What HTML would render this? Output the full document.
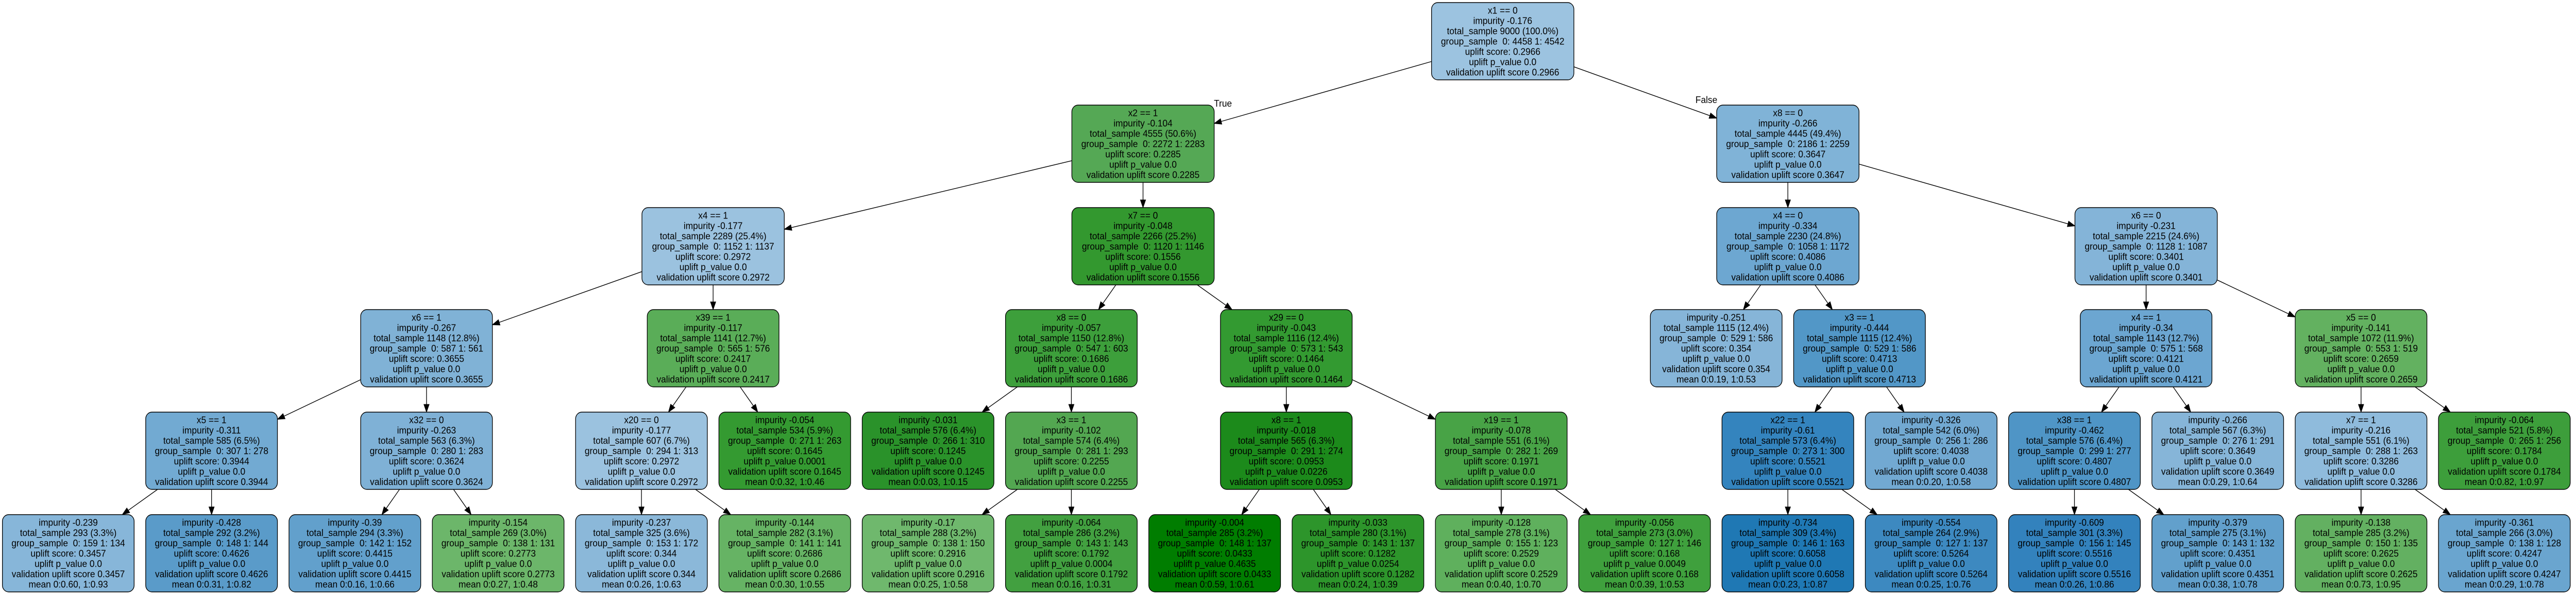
<!DOCTYPE html>
<html><head><meta charset="utf-8"><style>
html,body{margin:0;padding:0;background:#fff;width:100vw;height:100vh;overflow:hidden}
svg{display:block;width:100vw;height:100vh}
svg text{font-family:"Liberation Sans",Arial,sans-serif;font-size:18.5px;fill:#000;white-space:pre}
</style></head><body>
<svg id="s" xmlns="http://www.w3.org/2000/svg" viewBox="0 0 5339 1155" preserveAspectRatio="none"></svg>
<script>
var tops=[5,204,403,601,800,999];
function I(h,imp,tot,g,up,p){return [h,"impurity "+imp,"total_sample "+tot,"group_sample  "+g,"uplift score: "+up,"uplift p_value "+p,"validation uplift score "+up];}
function L(imp,tot,g,up,p,m){return ["impurity "+imp,"total_sample "+tot,"group_sample  "+g,"uplift score: "+up,"uplift p_value "+p,"validation uplift score "+up,"mean "+m];}
var N=[
[10,0,"#9cc3e0",I("x1 == 0","-0.176","9000 (100.0%)","0: 4458 1: 4542","0.2966","0.0"),-1],
[7.5,1,"#55a855",I("x2 == 1","-0.104","4555 (50.6%)","0: 2272 1: 2283","0.2285","0.0"),0],
[12,1,"#80b3d7",I("x8 == 0","-0.266","4445 (49.4%)","0: 2186 1: 2259","0.3647","0.0"),0],
[4.5,2,"#9bc2df",I("x4 == 1","-0.177","2289 (25.4%)","0: 1152 1: 1137","0.2972","0.0"),1],
[7.5,2,"#33982f",I("x7 == 0","-0.048","2266 (25.2%)","0: 1120 1: 1146","0.1556","0.0"),1],
[12,2,"#6da7d1",I("x4 == 0","-0.334","2230 (24.8%)","0: 1058 1: 1172","0.4086","0.0"),2],
[14.5,2,"#84b4d8",I("x6 == 0","-0.231","2215 (24.6%)","0: 1128 1: 1087","0.3401","0.0"),2],
[2.5,3,"#80b2d6",I("x6 == 1","-0.267","1148 (12.8%)","0: 587 1: 561","0.3655","0.0"),3],
[4.5,3,"#5aad58",I("x39 == 1","-0.117","1141 (12.7%)","0: 565 1: 576","0.2417","0.0"),3],
[7,3,"#3d9f3b",I("x8 == 0","-0.057","1150 (12.8%)","0: 547 1: 603","0.1686","0.0"),4],
[8.5,3,"#339a31",I("x29 == 0","-0.043","1116 (12.4%)","0: 573 1: 543","0.1464","0.0"),4],
[11.5,3,"#86b5d8",L("-0.251","1115 (12.4%)","0: 529 1: 586","0.354","0.0","0:0.19, 1:0.53"),5],
[12.5,3,"#5297c7",I("x3 == 1","-0.444","1115 (12.4%)","0: 529 1: 586","0.4713","0.0"),5],
[14.5,3,"#6ca6d1",I("x4 == 1","-0.34","1143 (12.7%)","0: 575 1: 568","0.4121","0.0"),6],
[16,3,"#63b160",I("x5 == 0","-0.141","1072 (11.9%)","0: 553 1: 519","0.2659","0.0"),6],
[1,4,"#72aad2",I("x5 == 1","-0.311","585 (6.5%)","0: 307 1: 278","0.3944","0.0"),7],
[2.5,4,"#7fb1d6",I("x32 == 0","-0.263","563 (6.3%)","0: 280 1: 283","0.3624","0.0"),7],
[4,4,"#9bc2df",I("x20 == 0","-0.177","607 (6.7%)","0: 294 1: 313","0.2972","0.0"),8],
[5,4,"#349a31",L("-0.054","534 (5.9%)","0: 271 1: 263","0.1645","0.0001","0:0.32, 1:0.46"),8],
[6,4,"#2a922a",L("-0.031","576 (6.4%)","0: 266 1: 310","0.1245","0.0","0:0.03, 1:0.15"),9],
[7,4,"#53a751",I("x3 == 1","-0.102","574 (6.4%)","0: 281 1: 293","0.2255","0.0"),9],
[8.5,4,"#1c8a1b",I("x8 == 1","-0.018","565 (6.3%)","0: 291 1: 274","0.0953","0.0226"),10],
[10,4,"#48a346",I("x19 == 1","-0.078","551 (6.1%)","0: 282 1: 269","0.1971","0.0"),10],
[12,4,"#3484be",I("x22 == 1","-0.61","573 (6.4%)","0: 273 1: 300","0.5521","0.0"),12],
[13,4,"#72a9d2",L("-0.326","542 (6.0%)","0: 256 1: 286","0.4038","0.0","0:0.20, 1:0.58"),12],
[14,4,"#4f95c6",I("x38 == 1","-0.462","576 (6.4%)","0: 299 1: 277","0.4807","0.0"),13],
[15,4,"#86b5d8",L("-0.266","567 (6.3%)","0: 276 1: 291","0.3649","0.0","0:0.29, 1:0.64"),13],
[16,4,"#8fbbdc",I("x7 == 1","-0.216","551 (6.1%)","0: 288 1: 263","0.3286","0.0"),14],
[17,4,"#3d9e3b",L("-0.064","521 (5.8%)","0: 265 1: 256","0.1784","0.0","0:0.82, 1:0.97"),14],
[0,5,"#87b6d9",L("-0.239","293 (3.3%)","0: 159 1: 134","0.3457","0.0","0:0.60, 1:0.93"),15],
[1,5,"#5a9bc9",L("-0.428","292 (3.2%)","0: 148 1: 144","0.4626","0.0","0:0.31, 1:0.82"),15],
[2,5,"#62a0cc",L("-0.39","294 (3.3%)","0: 142 1: 152","0.4415","0.0","0:0.16, 1:0.66"),16],
[3,5,"#6cb66a",L("-0.154","269 (3.0%)","0: 138 1: 131","0.2773","0.0","0:0.27, 1:0.48"),16],
[4,5,"#8bb8d9",L("-0.237","325 (3.6%)","0: 153 1: 172","0.344","0.0","0:0.26, 1:0.63"),17],
[5,5,"#66b364",L("-0.144","282 (3.1%)","0: 141 1: 141","0.2686","0.0","0:0.30, 1:0.55"),17],
[6,5,"#6fb86d",L("-0.17","288 (3.2%)","0: 138 1: 150","0.2916","0.0","0:0.25, 1:0.58"),20],
[7,5,"#42a040",L("-0.064","286 (3.2%)","0: 143 1: 143","0.1792","0.0004","0:0.16, 1:0.31"),20],
[8,5,"#007d00",L("-0.004","285 (3.2%)","0: 148 1: 137","0.0433","0.4635","0:0.59, 1:0.61"),21],
[9,5,"#2d952b",L("-0.033","280 (3.1%)","0: 143 1: 137","0.1282","0.0254","0:0.24, 1:0.39"),21],
[10,5,"#5fb05d",L("-0.128","278 (3.1%)","0: 155 1: 123","0.2529","0.0","0:0.40, 1:0.70"),22],
[11,5,"#3fa03d",L("-0.056","273 (3.0%)","0: 127 1: 146","0.168","0.0049","0:0.39, 1:0.53"),22],
[12,5,"#1f78b4",L("-0.734","309 (3.4%)","0: 146 1: 163","0.6058","0.0","0:0.23, 1:0.87"),23],
[13,5,"#3d89c0",L("-0.554","264 (2.9%)","0: 127 1: 137","0.5264","0.0","0:0.25, 1:0.76"),23],
[14,5,"#3382bd",L("-0.609","301 (3.3%)","0: 156 1: 145","0.5516","0.0","0:0.26, 1:0.86"),25],
[15,5,"#62a0cc",L("-0.379","275 (3.1%)","0: 143 1: 132","0.4351","0.0","0:0.38, 1:0.78"),25],
[16,5,"#63b061",L("-0.138","285 (3.2%)","0: 150 1: 135","0.2625","0.0","0:0.73, 1:0.95"),27],
[17,5,"#6aa5cf",L("-0.361","266 (3.0%)","0: 138 1: 128","0.4247","0.0","0:0.29, 1:0.78"),27]
];
var s=document.getElementById('s'),out='';
function geo(n){var w=n[1]<=2?295:273;return {cx:141.5+297*n[0]+(n[1]==0?3:0),cy:tops[n[1]]+75,hw:w/2,hh:75};}
N.forEach(function(n){if(n[4]<0)return;var a=geo(N[n[4]]),b=geo(n);var dx=b.cx-a.cx,dy=b.cy-a.cy;
var t1=Math.min(dx?a.hw/Math.abs(dx):1e9,a.hh/Math.abs(dy)),t2=Math.min(dx?b.hw/Math.abs(dx):1e9,b.hh/Math.abs(dy));
var x1=a.cx+dx*t1,y1=a.cy+dy*t1,x2=b.cx-dx*t2,y2=b.cy-dy*t2;var len=Math.hypot(x2-x1,y2-y1),ux=(x2-x1)/len,uy=(y2-y1)/len;
var bx=x2-ux*15,by=y2-uy*15,px=-uy*5.5,py=ux*5.5;
out+='<line x1="'+x1+'" y1="'+y1+'" x2="'+bx+'" y2="'+by+'" stroke="#000" stroke-width="1.4"/>';
out+='<polygon points="'+x2+','+y2+' '+(bx+px)+','+(by+py)+' '+(bx-px)+','+(by-py)+'" fill="#000" stroke="#000"/>';});
N.forEach(function(n){var g=geo(n);out+='<rect x="'+(g.cx-g.hw)+'" y="'+(g.cy-75)+'" width="'+(2*g.hw)+'" height="150" rx="13" ry="13" fill="'+n[2]+'" stroke="#000" stroke-width="1.4"/>';
var L=n[3],k=L.length;L.forEach(function(t,i){var y=g.cy+(i-(k-1)/2)*20+6.5;out+='<text x="'+g.cx+'" y="'+y+'" text-anchor="middle">'+t+'</text>';});});
out+='<text x="2516" y="207">True</text><text x="3514" y="200">False</text>';
s.innerHTML=out;
</script>
</body></html>
